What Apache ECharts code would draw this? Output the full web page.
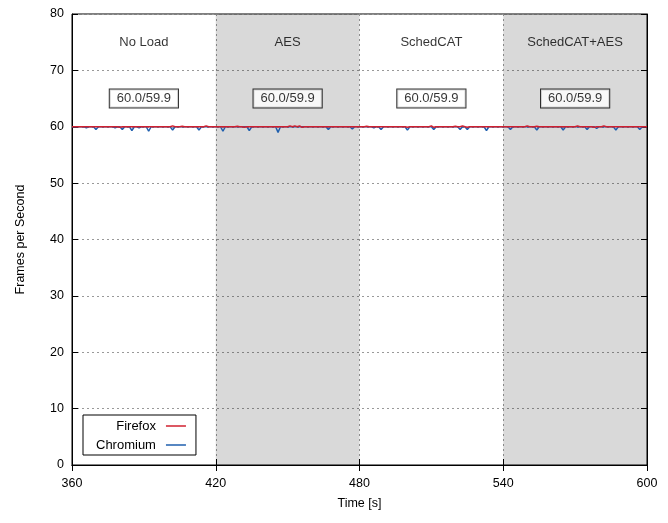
<!DOCTYPE html>
<html>
<head>
<meta charset="utf-8">
<script src="https://cdn.jsdelivr.net/npm/echarts@6/dist/echarts.min.js"></script>
<style>
html,body{margin:0;padding:0;background:#fff;}
#chart{width:668px;height:523px;}
</style>
</head>
<body>
<div id="chart"></div>
<script>
// ---- data ----
const xTicks = [360, 420, 480, 540, 600];
const phaseNames = ['No Load', 'AES', 'SchedCAT', 'SchedCAT+AES'];
const phaseStarts = [360, 420, 480, 540];
const phaseEnds = [420, 480, 540, 600];
const phaseCenters = [390, 450, 510, 570];
const phaseShaded = [false, true, false, true];
const fpsLabels = ['60.0/59.9', '60.0/59.9', '60.0/59.9', '60.0/59.9'];
const nameY = 75;
const boxY = 65;

// Chromium [time, fps]
const chromium = [
  [360,60.0],[365,60.0],[366,59.8],[367,60.0],[369,60.0],[370,59.5],[371,60.0],
  [377,60.0],[378,59.8],[379,60.0],[380,60.0],[381,59.5],[382,60.0],[384,60.0],[385,59.3],[386,60.0],
  [387,60.0],[388,59.8],[389,60.0],[391,60.0],[392,59.2],[393,60.0],
  [401,60.0],[402,59.4],[403,60.0],[412,60.0],[413,59.4],[414,60.0],
  [422,60.0],[423,59.2],[424,60.0],[433,60.0],[434,59.3],[435,60.0],
  [445,60.0],[446,59.0],[447,60.0],[466,60.0],[467,59.5],[468,60.0],
  [476,60.0],[477,59.6],[478,60.0],[485,60.0],[486,59.8],[487,60.0],[488,60.0],[489,59.5],[490,60.0],
  [499,60.0],[500,59.4],[501,60.0],[510,60.0],[511,59.5],[512,60.0],
  [521,60.0],[522,59.5],[523,60.0],[524,60.0],[525,59.5],[526,60.0],
  [532,60.0],[533,59.3],[534,60.0],[542,60.0],[543,59.5],[544,60.0],
  [553,60.0],[554,59.4],[555,60.0],[564,60.0],[565,59.4],[566,60.0],
  [574,60.0],[575,59.5],[576,60.0],[578,60.0],[579,59.7],[580,60.0],
  [586,60.0],[587,59.4],[588,60.0],[596,60.0],[597,59.5],[598,60.0],[600,60.0]
];

// Firefox [time, fps]
const firefox = [
  [360,60.0],[379,60.0],[380,59.9],[381,60.0],[401,60.0],[402,60.15],[403,60.0],
  [405,60.0],[406,60.1],[407,60.0],[415,60.0],[416,60.15],[417,60.0],
  [428,60.0],[429,60.1],[430,60.0],[431,60.0],[432,59.9],[433,60.0],
  [450,60.0],[451,60.15],[452,60.0],[453,60.15],[454,60.0],[455,60.15],[456,59.9],[457,60.0],
  [482,60.0],[483,60.1],[484,60.0],[499,60.0],[500,59.9],[501,60.0],
  [509,60.0],[510,60.15],[511,59.9],[512,60.0],[519,60.0],[520,60.1],[521,60.0],
  [522,60.0],[523,60.15],[524,60.0],[525,59.9],[526,60.0],
  [549,60.0],[550,60.15],[551,60.0],[553,60.0],[554,60.1],[555,60.0],
  [570,60.0],[571,60.15],[572,60.0],[577,60.0],[578,59.9],[579,60.0],
  [581,60.0],[582,60.15],[583,60.0],[600,60.0]
];

// ---- chart ----
const FONT = '"Liberation Sans", Arial, sans-serif';
const chart = echarts.init(document.getElementById('chart'));

const shadeAreas = [];
phaseStarts.forEach((s, i) => {
  if (phaseShaded[i]) shadeAreas.push([{xAxis: s}, {xAxis: phaseEnds[i]}]);
});

const gridLine = {show: true, lineStyle: {color: '#999', type: [2, 3], width: 1}};
const RED = '#d0202f', BLUE = '#1f5fae';

chart.setOption({
  animation: false,
  backgroundColor: '#fff',
  textStyle: {fontFamily: FONT},
  grid: {left: 72, right: 21, top: 14, bottom: 58, show: true, borderColor: '#000', borderWidth: 1},
  legend: {
    data: [{name: 'Firefox', icon: 'rect'}, {name: 'Chromium', icon: 'rect'}],
    orient: 'vertical',
    align: 'right',
    left: 83, top: 415,
    padding: [4, 10, 3, 13],
    itemGap: 5,
    itemWidth: 20,
    itemHeight: 1.5,
    backgroundColor: '#fff',
    borderColor: '#000',
    borderWidth: 1,
    textStyle: {fontFamily: FONT, fontSize: 13, color: '#000', padding: [0, 5, 0, 0], lineHeight: 14}
  },
  xAxis: [{
    type: 'value', min: 360, max: 600, interval: 60,
    name: 'Time [s]', nameLocation: 'middle', nameGap: 32,
    nameTextStyle: {fontFamily: FONT, fontSize: 12.5, color: '#000'},
    axisLine: {show: true, lineStyle: {color: '#000', width: 1}},
    axisTick: {show: true, inside: true, length: 6, lineStyle: {color: '#000'}},
    axisLabel: {fontFamily: FONT, fontSize: 12.5, color: '#000', margin: 12,
      formatter: v => xTicks.includes(v) ? String(v) : ''},
    splitLine: gridLine
  }, {
    type: 'value', min: 360, max: 600, interval: 60, position: 'top',
    axisLine: {show: true, lineStyle: {color: '#000'}},
    axisTick: {show: true, inside: true, length: 6, lineStyle: {color: '#000'}},
    axisLabel: {show: false}, splitLine: {show: false}
  }],
  yAxis: [{
    type: 'value', min: 0, max: 80, interval: 10,
    name: 'Frames per Second', nameLocation: 'middle', nameGap: 45,
    nameTextStyle: {fontFamily: FONT, fontSize: 12.5, color: '#000'},
    axisLine: {show: true, lineStyle: {color: '#000', width: 1}},
    axisTick: {show: true, inside: true, length: 6, lineStyle: {color: '#000'}},
    axisLabel: {fontFamily: FONT, fontSize: 12.5, color: '#000', margin: 8},
    splitLine: gridLine
  }, {
    type: 'value', min: 0, max: 80, interval: 10, position: 'right',
    axisLine: {show: true, lineStyle: {color: '#000'}},
    axisTick: {show: true, inside: true, length: 6, lineStyle: {color: '#000'}},
    axisLabel: {show: false}, splitLine: {show: false}
  }],
  series: [
    {
      name: 'Chromium', type: 'line', data: chromium, showSymbol: false, symbol: 'none',
      lineStyle: {color: BLUE, width: 1.5}, itemStyle: {color: BLUE},
      z: 3,
      markArea: {silent: true, itemStyle: {color: 'rgba(0,0,0,0.15)'}, data: shadeAreas}
    },
    {
      name: 'Firefox', type: 'line', data: firefox, showSymbol: false, symbol: 'none',
      lineStyle: {color: RED, width: 1.5}, itemStyle: {color: RED},
      z: 4
    },
    {
      name: 'phases', type: 'scatter', symbolSize: 0, silent: true, z: 5,
      data: phaseCenters.map((c, i) => ({value: [c, nameY], name: phaseNames[i]})),
      label: {show: true, position: 'inside', formatter: p => p.name,
        fontFamily: FONT, fontSize: 13, color: '#000'}
    },
    {
      name: 'boxes', type: 'scatter', symbolSize: 0, silent: true, z: 5,
      data: phaseCenters.map((c, i) => ({value: [c, boxY], name: fpsLabels[i]})),
      label: {show: true, position: 'inside', formatter: p => p.name,
        fontFamily: FONT, fontSize: 13, color: '#000',
        backgroundColor: '#fff', borderColor: '#000', borderWidth: 1, padding: [3, 7, 2, 7]}
    }
  ]
});
</script>
</body>
</html>
